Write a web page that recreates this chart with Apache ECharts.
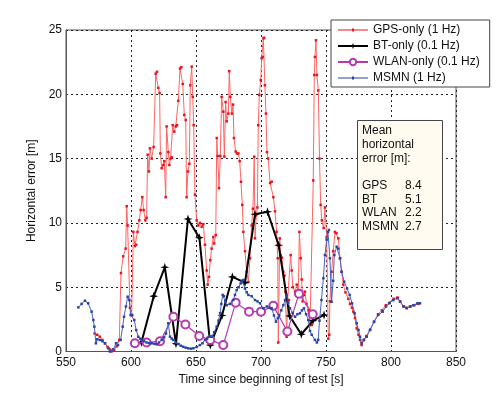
<!DOCTYPE html>
<html>
<head>
<meta charset="utf-8">
<script src="https://cdn.jsdelivr.net/npm/echarts@6/dist/echarts.min.js"></script>
<style>
  html, body { margin: 0; padding: 0; background: #fff; }
  #chart { width: 504px; height: 397px; }
</style>
</head>
<body>
<div id="chart"></div>
<script>
// GPS-only (1 Hz)
var gpsTime = [572, 574, 576, 578, 580, 582, 584, 585, 587, 589, 591, 592.3, 594, 595.9, 596.7, 597.4, 599.2, 600.5, 601.8, 603,
  604, 605, 606.4, 607.4, 608.7, 609.7, 611, 612, 612.8, 613.8, 614.6, 615.9, 617.4, 619, 620, 621, 622, 622.6, 623.6, 624.9,
  625.6, 626.7, 627.4, 628.7, 629.5, 630.4, 631.3, 632.1, 633.3, 634.4, 635.4, 636.4, 637.7, 638.7, 639.8, 641, 642.1, 642.8, 643.8, 644.9,
  645.6, 646.7, 647.5, 648.2, 649.2, 650.5, 651.8, 653, 654.4, 655.6, 656.9, 658.2, 659, 660, 661, 662, 663.3, 664, 665.2, 666,
  666.7, 667.7, 668.7, 669.7, 671, 671.8, 672.8, 673.6, 674.9, 675.6, 676.4, 677.6, 678.5, 679.2, 680.5, 681.5, 682.6, 683.6, 684.6, 685.6,
  686.4, 687.7, 689, 690.3, 691.5, 692.8, 693.8, 694.8, 695.4, 696.4, 697.2, 697.9, 698.7, 699.8, 700.5, 701.3, 701.8, 702.5, 703, 703.8,
  704.6, 705.5, 707, 708.2, 709.5, 710.8, 712, 712.9, 713.3, 714.4, 715.1, 716, 717.2, 718, 718.7, 719.7, 720.5, 721.5, 722.8, 723.6,
  724.5, 726.2, 727.5, 728.7, 729.5, 730.5, 731.3, 732, 733, 733.8, 735, 736.5, 737.7, 739, 740.2, 741, 741.5, 742.3, 743, 744.1,
  745, 745.9, 746.8, 748.2, 749.2, 750.5, 751.8, 752.5, 753, 754.3, 755.6, 756.9, 758, 759.5, 760.8, 762, 763.3, 765, 767.2, 768.5,
  770, 771, 772.3, 773.6, 775, 776.2, 777.4, 779, 781, 784, 787, 790, 793, 796, 799, 802, 805, 807, 810, 812,
  815, 818, 821];
var gpsErr = [1.4, 1.3, 1.15, 0.9, 0.64, 0.35, 0.15, 0.0, 0.1, 0.4, 0.9, 6.1, 7.4, 8.0, 11.3, 9.8, 3.4, 2.8, 9.3, 8.2,
  8.3, 9.3, 10.2, 11.0, 12.0, 11.0, 10.2, 10.4, 15.3, 14.0, 15.8, 15.0, 15.9, 21.6, 21.75, 20.5, 20.1, 15.4, 14.25, 14.5,
  14.8, 12.0, 17.5, 15.5, 14.5, 15.0, 15.1, 17.6, 17.1, 17.5, 17.6, 19.5, 22.0, 22.1, 20.8, 18.4, 18.0, 12.0, 14.0, 14.6,
  20.7, 22.15, 19.8, 17.6, 12.2, 10.2, 9.8, 10.0, 9.7, 9.9, 8.3, 6.3, 5.2, 5.8, 7.1, 8.0, 8.9, 8.4, 9.05, 16.6,
  15.2, 12.7, 15.2, 19.8, 18.65, 15.15, 19.4, 17.9, 18.5, 21.8, 19.8, 18.5, 19.2, 16.6, 15.55, 15.4, 15.4, 14.8, 13.2, 11.4,
  9.3, 7.8, 6.2, 5.4, 7.25, 9.8, 11.1, 15.15, 8.8, 10.6, 11.2, 17.6, 19.95, 21.1, 22.8, 22.9, 24.35, 24.4, 20.7, 18.5,
  15.5, 15.0, 13.1, 13.2, 12.0, 10.9, 9.3, 7.25, 0.7, 8.8, 7.5, 7.3, 6.2, 5.9, 4.65, 1.15, 4.0, 4.0, 7.5, 6.3,
  5.0, 4.65, 5.2, 4.65, 9.3, 7.25, 5.6, 3.9, 4.4, 4.65, 3.7, 3.2, 2.06, 2.06, 13.3, 21.5, 22.9, 24.2, 21.5, 20.3,
  15.0, 11.4, 10.2, 9.6, 11.2, 8.9, 1.0, 1.3, 3.9, 6.2, 7.8, 9.3, 9.2, 8.8, 7.25, 6.2, 5.2, 4.6, 4.1, 3.7,
  3.4, 3.1, 2.6, 1.8, 1.3, 0.9, 0.5, 0.9, 1.2, 1.7, 2.3, 2.9, 3.2, 3.6, 3.8, 4.1, 4.2, 3.9, 3.5, 3.4,
  3.5, 3.6, 3.7];

// BT-only (0.1 Hz)
var btTime = [608, 617.5, 626, 634.6, 643.8, 652.6, 661, 670, 678, 687.7, 695.4, 705, 713.6, 722, 731, 740, 748.5];
var btErr = [0.7, 4.3, 6.55, 0.6, 10.3, 8.85, 0.5, 2.8, 5.8, 5.35, 10.67, 10.87, 8.26, 2.76, 1.34, 2.4, 2.84];

// WLAN-only (0.1 Hz)
var wlanTime = [603, 612, 622.3, 632.6, 641.8, 652.5, 661, 671, 680.5, 690.8, 700, 709.5, 720.3, 729.2, 739.8];
var wlanErr = [0.64, 0.7, 0.8, 2.7, 2.1, 1.2, 0.9, 0.5, 3.8, 3.1, 3.1, 3.55, 1.55, 4.5, 2.9];

// MSMN (1 Hz)
var msmnTime = [559.5, 562, 564.6, 567, 569.7, 571, 571.8, 573, 574, 576, 578, 580, 582.6, 583.8, 586.4, 588.5, 590, 592, 593.6, 594.6,
  596.1, 597.4, 598.7, 599.7, 601, 602.5, 604, 605.6, 607, 608.2, 610, 612, 614, 615.9, 618, 619.7, 621.5, 623.6, 625.5, 626.9,
  628.7, 630, 631.3, 632.6, 634.5, 636.4, 638.3, 640.2, 642, 644, 646, 648, 650.5, 653, 655, 656.9, 658.6, 660.3, 662, 664,
  665.9, 667.3, 668.5, 669.5, 670.5, 671.5, 672.5, 673.6, 676, 678.7, 680, 681.3, 682.8, 684.4, 685.4, 686.4, 687.7, 689, 690.3, 692.8,
  695.4, 697.3, 699.2, 701.8, 704.5, 706.5, 708.2, 710, 711.5, 713, 714, 715.6, 717.2, 718.5, 719.7, 721, 722.3, 724.3, 726.2, 728,
  730, 731.5, 733, 734.7, 736.4, 737.7, 739, 741.5, 743, 744, 745, 746.5, 748, 749.2, 750.5, 751.5, 752.2, 753, 754.3, 755.5,
  756.4, 758.2, 759.5, 760.8, 762, 764, 766.2, 768.2, 770, 772, 773.6, 775, 776.2, 777.4, 779.2, 781.3, 783.8, 786.9, 790.2, 793.6,
  796.2, 798.7, 801.8, 804.9, 807, 809.5, 812, 814.6, 817.2, 820.3, 822.3];
var msmnErr = [3.43, 3.7, 3.95, 3.75, 3.1, 2.45, 1.93, 0.64, 0.95, 0.9, 0.8, 0.64, 0.25, 0.0, 0.17, 0.64, 0.5, 0.9, 1.93, 2.7,
  3.5, 4.26, 4.0, 2.84, 2.84, 2.45, 1.67, 1.15, 1.0, 0.9, 0.8, 0.7, 0.65, 0.64, 0.6, 0.56, 0.7, 0.9, 1.1, 1.4,
  2.2, 1.15, 1.0, 0.9, 0.7, 0.58, 0.45, 0.37, 0.3, 0.25, 0.22, 0.25, 0.35, 0.5, 0.64, 0.9, 1.0, 1.15, 1.15, 1.5,
  1.93, 2.4, 2.97, 3.7, 4.4, 4.3, 3.9, 3.6, 3.7, 4.0, 4.4, 4.78, 5.0, 5.3, 5.5, 5.56, 4.9, 4.6, 4.4, 4.3,
  4.0, 3.9, 3.75, 3.36, 3.5, 3.4, 3.36, 2.8, 2.32, 2.6, 2.8, 3.2, 3.6, 4.0, 4.4, 3.8, 3.36, 3.0, 2.7, 2.9,
  2.97, 3.2, 3.36, 2.9, 2.45, 1.6, 1.3, 0.9, 0.7, 0.9, 2.4, 4.0, 5.7, 7.5, 8.7, 9.3, 9.45, 7.25, 3.87, 5.5,
  7.5, 8.15, 8.0, 7.25, 6.2, 5.43, 4.9, 4.4, 3.75, 2.97, 2.2, 1.67, 1.15, 0.64, 0.9, 1.15, 1.67, 2.32, 2.84, 3.1,
  3.5, 3.75, 4.0, 4.14, 3.87, 3.5, 3.36, 3.5, 3.6, 3.75, 3.75];

var statNames = ['GPS', 'BT', 'WLAN', 'MSMN'];
var statMeans = ['8.4', '5.1', '2.2', '2.7'];

var xTicks = [550, 850, 50];
var yTicks = [0, 25, 5];

function pairs(t, v) {
    var out = [];
    for (var i = 0; i < t.length; i++) out.push([t[i], v[i]]);
    return out;
}

// legend icons: thin line with a small dot in the middle (1 Hz series)
var dotLineIcon = 'path://M0,1H30V2H0Z M14,0H16V3H14Z';

var font = 'Liberation Sans, Arial, sans-serif';
var chart = echarts.init(document.getElementById('chart'), null, { renderer: 'canvas' });

var option = {
    animation: false,
    backgroundColor: '#fff',
    textStyle: { fontFamily: font },
    grid: { left: 66, right: 48, top: 30, bottom: 45.5, show: true, borderColor: '#555', borderWidth: 1 },
    legend: {
        orient: 'vertical',
        left: 331,
        top: 20,
        backgroundColor: '#fff',
        borderColor: '#444',
        borderWidth: 1,
        padding: [3, 10, 2, 6],
        itemWidth: 30,
        itemHeight: 8,
        itemGap: 2,
        textStyle: { fontSize: 12, color: '#111', fontFamily: font, lineHeight: 14 },
        data: [
            { name: 'GPS-only (1 Hz)', icon: dotLineIcon },
            'BT-only (0.1 Hz)',
            'WLAN-only (0.1 Hz)',
            { name: 'MSMN (1 Hz)', icon: dotLineIcon }
        ]
    },
    xAxis: {
        type: 'value',
        min: xTicks[0], max: xTicks[1], interval: xTicks[2],
        name: 'Time since beginning of test [s]',
        nameLocation: 'middle',
        nameGap: 20,
        nameTextStyle: { fontSize: 12, color: '#111' },
        axisLine: { show: true, lineStyle: { color: '#555' } },
        axisTick: { show: false },
        axisLabel: { fontSize: 12, color: '#111', margin: 5 },
        splitLine: { show: true, lineStyle: { color: '#222', type: [2, 3], width: 1 } }
    },
    yAxis: {
        type: 'value',
        min: yTicks[0], max: yTicks[1], interval: yTicks[2],
        name: 'Horizontal error [m]',
        nameLocation: 'middle',
        nameGap: 22,
        nameTextStyle: { fontSize: 12, color: '#111' },
        axisLine: { show: true, lineStyle: { color: '#555' } },
        axisTick: { show: false },
        axisLabel: { fontSize: 12, color: '#111', margin: 4 },
        splitLine: { show: true, lineStyle: { color: '#222', type: [2, 3], width: 1 } }
    },
    graphic: [
        {
            type: 'rect', left: 357, top: 120, z: 100,
            shape: { width: 85, height: 129 },
            style: { fill: '#fffbf0', stroke: '#444', lineWidth: 1 }
        },
        {
            type: 'text', left: 362, top: 124, z: 101,
            style: { text: 'Mean\nhorizontal\nerror [m]:\n\n' + statNames.join('\n'), font: '12px ' + font, fill: '#111', lineHeight: 13.7 }
        },
        {
            type: 'text', left: 405, top: 124, z: 101,
            style: { text: '\n\n\n\n' + statMeans.join('\n'), font: '12px ' + font, fill: '#111', lineHeight: 13.7 }
        }
    ],
    series: [
        {
            name: 'GPS-only (1 Hz)',
            type: 'line',
            data: pairs(gpsTime, gpsErr),
            symbol: 'rect',
            symbolSize: 2.5,
            itemStyle: { color: '#e8141c' },
            lineStyle: { color: '#ff6464', width: 1 },
            z: 2
        },
        {
            name: 'BT-only (0.1 Hz)',
            type: 'line',
            data: pairs(btTime, btErr),
            symbol: 'path://M0,-5L1.2,-1.2L5,0L1.2,1.2L0,5L-1.2,1.2L-5,0L-1.2,-1.2Z',
            symbolSize: 9,
            itemStyle: { color: '#000' },
            lineStyle: { color: '#000', width: 2 },
            z: 3
        },
        {
            name: 'WLAN-only (0.1 Hz)',
            type: 'line',
            data: pairs(wlanTime, wlanErr),
            symbol: 'emptyCircle',
            symbolSize: 8,
            itemStyle: { color: '#b63aae', borderWidth: 1.2 },
            lineStyle: { color: '#b63aae', width: 1.2 },
            z: 4
        },
        {
            name: 'MSMN (1 Hz)',
            type: 'line',
            data: pairs(msmnTime, msmnErr),
            symbol: 'rect',
            symbolSize: 2.5,
            itemStyle: { color: '#2844a4' },
            lineStyle: { color: '#4462c4', width: 1 },
            z: 5
        }
    ]
};

chart.setOption(option);
window.addEventListener('resize', chart.resize);
</script>
</body>
</html>
